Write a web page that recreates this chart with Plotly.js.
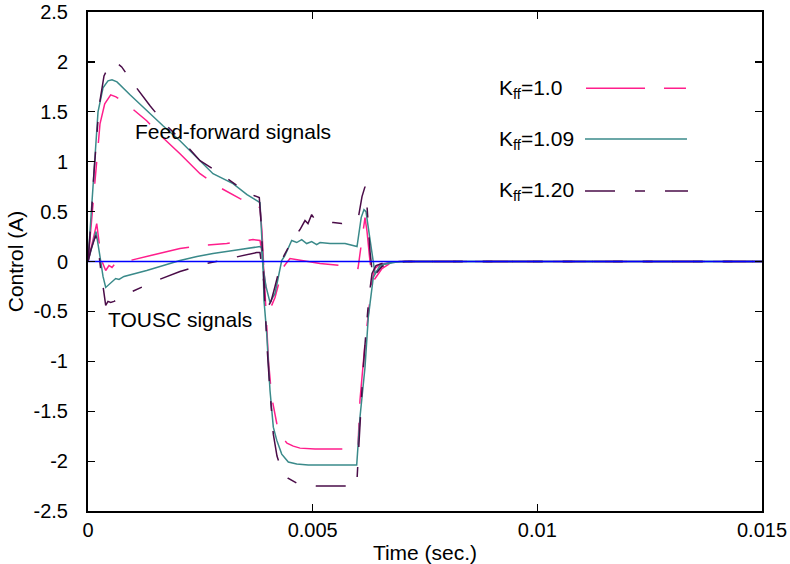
<!DOCTYPE html>
<html>
<head>
<meta charset="utf-8">
<script src="https://cdn.plot.ly/plotly-3.0.1.min.js"></script>
<style>html,body{margin:0;padding:0;background:#fff;}#chart{width:790px;height:564px;}</style>
</head>
<body>
<div id="chart"></div>
<script>
// ---- data (time in seconds, control in A) ----
var seriesNames = ["K<sub>ff</sub>=1.0", "K<sub>ff</sub>=1.09", "K<sub>ff</sub>=1.20"];

// Kff = 1.0 : feed-forward
var tFF10 = [0, 0.000089, 0.000156, 0.000207, 0.000267, 0.000372, 0.000505, 0.000623, 0.000935, 0.001306, 0.001669, 0.002047, 0.002493, 0.002938, 0.003383, 0.003828, 0.003872, 0.003905, 0.003961, 0.004017, 0.004088, 0.004200, 0.004311, 0.004429, 0.004569, 0.004718, 0.005052, 0.005980, 0.006009, 0.006053, 0.006165, 0.006254, 0.006321, 0.006387, 0.006498, 0.006721, 0.006944, 0.015];
var yFF10 = [0, 0.45, 0.85, 1.11, 1.38, 1.58, 1.67, 1.65, 1.55, 1.41, 1.24, 1.08, 0.88, 0.74, 0.63, 0.54, 0.30, 0.00, -0.50, -1.00, -1.36, -1.62, -1.76, -1.82, -1.85, -1.87, -1.88, -1.88, -1.85, -1.39, -0.82, -0.46, -0.20, -0.07, -0.03, -0.01, 0, 0];
// Kff = 1.0 : TOUSC
var tTO10 = [0, 0.000089, 0.000194, 0.000245, 0.000312, 0.000394, 0.000467, 0.000534, 0.000623, 0.000712, 0.000935, 0.001395, 0.002047, 0.002493, 0.003087, 0.003672, 0.003828, 0.003872, 0.003939, 0.004006, 0.004088, 0.004162, 0.004251, 0.004340, 0.004407, 0.004495, 0.004896, 0.005163, 0.005608, 0.006009, 0.006087, 0.006165, 0.006210, 0.006276, 0.006343, 0.006410, 0.006543, 0.006721, 0.006944, 0.015];
var yTO10 = [0, 0.18, 0.38, 0.20, 0.00, -0.09, -0.04, -0.06, -0.01, -0.02, 0.01, 0.06, 0.13, 0.16, 0.18, 0.22, 0.21, 0.10, -0.20, -0.38, -0.44, -0.36, -0.20, -0.06, -0.02, 0.03, 0.00, -0.02, -0.04, -0.07, 0.19, 0.44, 0.30, 0.00, -0.20, -0.16, -0.07, -0.02, 0, 0];

// Kff = 1.09 : feed-forward
var tFF109 = [0, 0.000078, 0.000156, 0.000223, 0.000334, 0.000445, 0.000534, 0.000645, 0.000935, 0.001306, 0.001669, 0.002047, 0.002426, 0.002782, 0.003227, 0.003539, 0.003828, 0.003861, 0.003895, 0.003917, 0.003977, 0.004050, 0.004124, 0.004200, 0.004311, 0.004458, 0.004645, 0.004903, 0.005980, 0.006053, 0.006165, 0.006238, 0.006349, 0.006498, 0.006721, 0.006944, 0.015];
var yFF109 = [0, 0.50, 1.10, 1.50, 1.74, 1.81, 1.82, 1.80, 1.67, 1.51, 1.36, 1.21, 1.04, 0.88, 0.78, 0.67, 0.59, 0.31, 0.00, -0.39, -0.72, -1.29, -1.66, -1.79, -1.93, -2.01, -2.03, -2.04, -2.04, -1.56, -1.06, -0.56, -0.16, -0.04, -0.01, 0, 0];
// Kff = 1.09 : TOUSC
var tTO109 = [0, 0.000089, 0.000178, 0.000267, 0.000334, 0.000394, 0.000505, 0.000616, 0.000690, 0.000801, 0.001306, 0.001669, 0.002047, 0.002426, 0.002782, 0.003383, 0.003828, 0.003861, 0.003895, 0.003961, 0.004050, 0.004162, 0.004228, 0.004311, 0.004384, 0.004533, 0.004645, 0.004756, 0.004867, 0.004978, 0.005089, 0.005163, 0.005386, 0.005720, 0.005987, 0.006004, 0.006080, 0.006142, 0.006187, 0.006238, 0.006314, 0.006387, 0.006461, 0.006572, 0.006870, 0.007166, 0.015];
var yTO109 = [0, 0.15, 0.30, 0.05, -0.15, -0.26, -0.21, -0.17, -0.18, -0.15, -0.09, -0.04, 0.01, 0.05, 0.08, 0.12, 0.15, 0.14, -0.06, -0.25, -0.41, -0.32, -0.18, 0.01, 0.06, 0.21, 0.19, 0.22, 0.18, 0.20, 0.17, 0.19, 0.18, 0.18, 0.15, 0.20, 0.44, 0.52, 0.50, 0.34, 0.08, -0.12, -0.08, -0.03, -0.005, 0, 0];

// Kff = 1.20 : feed-forward
var tFF120 = [0, 0.000067, 0.000134, 0.000200, 0.000245, 0.000356, 0.000490, 0.000616, 0.000750, 0.001046, 0.001380, 0.001751, 0.002197, 0.002493, 0.003011, 0.003532, 0.003812, 0.003850, 0.003895, 0.003939, 0.003984, 0.004050, 0.004124, 0.004206, 0.004311, 0.004451, 0.004718, 0.005089, 0.005980, 0.006009, 0.006053, 0.006120, 0.006187, 0.006254, 0.006321, 0.006410, 0.006610, 0.006944, 0.015];
var yFF120 = [0, 0.40, 0.90, 1.30, 1.55, 1.86, 1.98, 2.00, 1.95, 1.76, 1.56, 1.36, 1.16, 1.01, 0.86, 0.69, 0.64, 0.40, 0.00, -0.52, -0.85, -1.30, -1.73, -1.95, -2.09, -2.17, -2.24, -2.25, -2.25, -2.00, -1.60, -1.10, -0.70, -0.35, -0.12, -0.04, -0.01, 0, 0];
// Kff = 1.20 : TOUSC
var tTO120 = [0, 0.000067, 0.000171, 0.000223, 0.000289, 0.000356, 0.000394, 0.000445, 0.000505, 0.000579, 0.000935, 0.001529, 0.002047, 0.002642, 0.003227, 0.003754, 0.003828, 0.003872, 0.003939, 0.004006, 0.004073, 0.004162, 0.004273, 0.004362, 0.004451, 0.004569, 0.004718, 0.004829, 0.004896, 0.004978, 0.005052, 0.005163, 0.005459, 0.005646, 0.005831, 0.006016, 0.006098, 0.006165, 0.006210, 0.006276, 0.006343, 0.006410, 0.006543, 0.006766, 0.007055, 0.015];
var yTO120 = [0, 0.12, 0.26, 0.15, -0.10, -0.30, -0.44, -0.40, -0.41, -0.40, -0.31, -0.19, -0.10, -0.02, 0.04, 0.09, 0.09, -0.05, -0.30, -0.45, -0.40, -0.25, -0.05, 0.06, 0.14, 0.23, 0.32, 0.41, 0.38, 0.47, 0.42, 0.40, 0.39, 0.38, 0.40, 0.44, 0.65, 0.75, 0.55, 0.10, -0.18, -0.12, -0.05, -0.01, 0, 0];

// reference (zero) line
var tRef = [0, 0.015];
var yRef = [0, 0];

// tick labels
var xTickVals = [0, 0.005, 0.01, 0.015];
var xTickText = ["0", "0.005", "0.01", "0.015"];
var yTickVals = [-2.5, -2, -1.5, -1, -0.5, 0, 0.5, 1, 1.5, 2, 2.5];
var yTickText = ["-2.5", "-2", "-1.5", "-1", "-0.5", "0", "0.5", "1", "1.5", "2", "2.5"];

// ---- styles ----
var colors = ["#ff1e8c", "#3a8a8a", "#4a0c48"];
var dashes = ["59px,19px,22px,19px", "solid", "30px,20px,10px,20px"];
var LW = 1.5;
var FONT = "Liberation Sans, Arial, Helvetica, sans-serif";

function tr(x, y, i) {
  return {x: x, y: y, type: "scatter", mode: "lines", showlegend: false,
          hoverinfo: "skip",
          line: {color: colors[i], width: LW, dash: dashes[i]}};
}

var traces = [
  tr(tFF10, yFF10, 0), tr(tTO10, yTO10, 0),
  tr(tFF109, yFF109, 1), tr(tTO109, yTO109, 1),
  tr(tFF120, yFF120, 2), tr(tTO120, yTO120, 2),
  {x: tRef, y: yRef, type: "scatter", mode: "lines", showlegend: false,
   hoverinfo: "skip", line: {color: "#0000ff", width: 1.5}}
];

// legend drawn as text + sample line (text left, sample right)
var legY = [0.845, 0.744, 0.642];
var legLineY = [0.847, 0.7455, 0.6413];
var legX0 = [0.7389, 0.7374, 0.7374];
var legX1 = [0.8872, 0.8887, 0.8902];

var annotations = [
  {text: "Feed-forward signals", x: 0.001001, y: 1.30, xref: "x", yref: "y",
   xanchor: "left", yanchor: "middle", showarrow: false, font: {size: 21, color: "#000"}},
  {text: "TOUSC signals", x: 0.000401, y: -0.586, xref: "x", yref: "y",
   xanchor: "left", yanchor: "middle", showarrow: false, font: {size: 21, color: "#000"}}
];
var shapes = [];
for (var i = 0; i < 3; i++) {
  annotations.push({text: seriesNames[i], x: 0.6068, y: legY[i], xref: "paper", yref: "paper",
    xanchor: "left", yanchor: "middle", showarrow: false, font: {size: 21, color: "#000"}});
  shapes.push({type: "line", xref: "paper", yref: "paper",
    x0: legX0[i], x1: legX1[i], y0: legLineY[i], y1: legLineY[i],
    line: {color: colors[i], width: LW, dash: dashes[i]}});
}

var layout = {
  width: 790, height: 564,
  margin: {l: 88, r: 28, t: 12, b: 53, pad: 0},
  paper_bgcolor: "#fff", plot_bgcolor: "#fff",
  font: {family: FONT, size: 20, color: "#000"},
  showlegend: false,
  xaxis: {
    range: [0, 0.015], tickvals: xTickVals, ticktext: xTickText,
    ticks: "inside", ticklen: 7, tickwidth: 1.2, tickcolor: "#000",
    showline: true, linecolor: "#000", linewidth: 2, mirror: "ticks",
    showgrid: false, zeroline: false,
    tickfont: {size: 20},
    title: {text: "Time (sec.)", font: {size: 21}, standoff: 6}
  },
  yaxis: {
    range: [-2.5, 2.5], tickvals: yTickVals, ticktext: yTickText,
    ticks: "inside", ticklen: 7, tickwidth: 1.2, tickcolor: "#000",
    showline: true, linecolor: "#000", linewidth: 2, mirror: "ticks",
    showgrid: false, zeroline: false,
    tickfont: {size: 20}, ticklabelstandoff: 14,
    title: {text: "Control (A)", font: {size: 21}, standoff: 4}
  },
  annotations: annotations,
  shapes: shapes
};

Plotly.newPlot("chart", traces, layout, {displayModeBar: false, staticPlot: true});
</script>
</body>
</html>
